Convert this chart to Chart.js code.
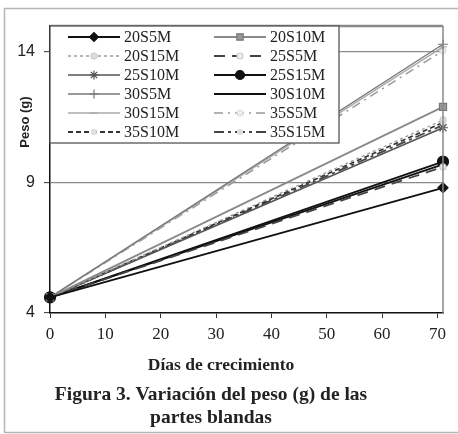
<!DOCTYPE html>
<html>
<head>
<meta charset="utf-8">
<script src="https://cdn.jsdelivr.net/npm/chart.js@4/dist/chart.umd.min.js"></script>
<style>
html,body{margin:0;padding:0;background:#fff;}
#wrap{width:458px;height:434px;position:relative;}
</style>
</head>
<body>
<div id="wrap"><canvas id="c" width="458" height="434"></canvas></div>
<script>
// ---- data ----
const days = [0, 71];
const seriesNames = ['20S5M','20S10M','20S15M','25S5M','25S10M','25S15M','30S5M','30S10M','30S15M','35S5M','35S10M','35S15M'];
const v20S5M  = [4.6, 8.8];
const v20S10M = [4.6, 11.9];
const v20S15M = [4.6, 11.4];
const v25S5M  = [4.6, 9.6];
const v25S10M = [4.6, 11.1];
const v25S15M = [4.6, 9.8];
const v30S5M  = [4.6, 14.3];
const v30S10M = [4.6, 9.7];
const v30S15M = [4.6, 14.2];
const v35S5M  = [4.6, 14.05];
const v35S10M = [4.6, 11.3];
const v35S15M = [4.6, 11.2];
const xTicks = [0, 10, 20, 30, 40, 50, 60, 70];
const yTicks = [4, 9, 14];
const yTitle = 'Peso (g)';
const xTitle = 'Días de crecimiento';
const caption = ['Figura 3. Variación del peso (g) de las', 'partes blandas'];

const values = [v20S5M,v20S10M,v20S15M,v25S5M,v25S10M,v25S15M,v30S5M,v30S10M,v30S15M,v35S5M,v35S10M,v35S15M];
const styles = [
  {c:'#111', w:1.8, dash:[], ps:'rectRot', pr:5, pf:'#111', pb:'#111'},
  {c:'#8a8a8a', w:1.8, dash:[], ps:'rect', pr:5, pf:'#999', pb:'#777'},
  {c:'#999', w:1.3, dash:[3,3], ps:'circle', pr:3, pf:'#ddd', pb:'#ccc'},
  {c:'#444', w:1.8, dash:[11,7], ps:'circle', pr:3, pf:'#eee', pb:'#ccc'},
  {c:'#555', w:1.6, dash:[], ps:'star', pr:5, pf:'#555', pb:'#555'},
  {c:'#111', w:1.8, dash:[], ps:'circle', pr:5.5, pf:'#111', pb:'#111'},
  {c:'#777', w:1.3, dash:[], ps:'cross', pr:5, pf:'#777', pb:'#777'},
  {c:'#111', w:1.8, dash:[], ps:'line', pr:4, pf:'#111', pb:'#111'},
  {c:'#aaa', w:1.5, dash:[], ps:'line', pr:4, pf:'#aaa', pb:'#aaa'},
  {c:'#999', w:1.5, dash:[9,5,2,5], ps:'circle', pr:3, pf:'#eee', pb:'#ddd'},
  {c:'#333', w:1.8, dash:[5,3], ps:'rect', pr:3, pf:'#ddd', pb:'#ddd'},
  {c:'#444', w:1.8, dash:[10,4,3,4], ps:'circle', pr:2.5, pf:'#ddd', pb:'#ddd'}
];

const datasets = seriesNames.map((n, i) => ({
  label: n,
  data: days.map((d, j) => ({x: d, y: values[i][j]})),
  borderColor: styles[i].c,
  borderWidth: styles[i].w,
  borderDash: styles[i].dash,
  pointStyle: styles[i].ps,
  pointRadius: styles[i].pr,
  pointBackgroundColor: styles[i].pf,
  pointBorderColor: styles[i].pb,
  pointBorderWidth: 1.2,
  fill: false,
  tension: 0,
  clip: false
}));

const SERIF = '"Liberation Serif", "Times New Roman", serif';
const SANS = '"Liberation Sans", Arial, sans-serif';

const decor = {
  id: 'decor',
  beforeDraw(chart) {
    const ctx = chart.ctx;
    ctx.save();
    ctx.fillStyle = '#fff';
    ctx.fillRect(0, 0, chart.width, chart.height);
    ctx.strokeStyle = '#b5b5b5';
    ctx.lineWidth = 1.5;
    ctx.beginPath();
    ctx.moveTo(4.5, 433); ctx.lineTo(4.5, 8.5); ctx.lineTo(458, 8.5);
    ctx.moveTo(4.5, 432.5); ctx.lineTo(458, 432.5);
    ctx.stroke();
    ctx.restore();
  },
  afterDatasetsDraw(chart) {
    const ctx = chart.ctx;
    const a = chart.chartArea;
    ctx.save();
    // plot frame top and right
    ctx.strokeStyle = '#888';
    ctx.lineWidth = 2.5;
    ctx.beginPath();
    ctx.moveTo(a.left, a.top); ctx.lineTo(a.right, a.top);
    ctx.stroke();
    ctx.lineWidth = 1.5;
    ctx.beginPath();
    ctx.moveTo(a.right, a.top); ctx.lineTo(a.right, a.bottom);
    ctx.stroke();

    // legend box
    const lx = a.left, ly = a.top, lw = 289, lh = 117;
    ctx.fillStyle = '#fff';
    ctx.fillRect(lx, ly, lw, lh);
    ctx.strokeStyle = '#555';
    ctx.lineWidth = 1.3;
    ctx.strokeRect(lx, ly, lw, lh);
    ctx.font = '16px ' + SERIF;
    ctx.textBaseline = 'middle';
    ctx.textAlign = 'left';
    chart.data.datasets.forEach((ds, i) => {
      const col = i % 2, row = Math.floor(i / 2);
      const y = ly + 11 + row * 19;
      const x0 = col === 0 ? lx + 18 : lx + 164;
      const x1 = x0 + 52;
      ctx.save();
      ctx.strokeStyle = ds.borderColor;
      ctx.lineWidth = ds.borderWidth;
      ctx.setLineDash(ds.borderDash);
      ctx.beginPath();
      ctx.moveTo(x0, y); ctx.lineTo(x1, y);
      ctx.stroke();
      ctx.setLineDash([]);
      ctx.fillStyle = ds.pointBackgroundColor;
      ctx.strokeStyle = ds.pointBorderColor;
      ctx.lineWidth = 1.2;
      Chart.helpers.drawPoint(ctx, {pointStyle: ds.pointStyle, radius: Math.min(ds.pointRadius, 4.5), rotation: 0, borderWidth: 1.2}, (x0 + x1) / 2, y);
      ctx.restore();
      ctx.fillStyle = '#222';
      ctx.fillText(ds.label, x1 + 4, y + 1);
    });

    // axis titles and caption
    ctx.fillStyle = '#222';
    ctx.textAlign = 'center';
    ctx.textBaseline = 'middle';
    ctx.font = 'bold 17.5px ' + SERIF;
    ctx.fillText(xTitle, 221, 365);
    ctx.font = 'bold 19.5px ' + SERIF;
    ctx.fillText(caption[0], 211, 395);
    ctx.fillText(caption[1], 211, 418);
    ctx.save();
    ctx.translate(25, 122);
    ctx.rotate(-Math.PI / 2);
    ctx.font = 'bold 13px ' + SANS;
    ctx.fillText(yTitle, 0, 0);
    ctx.restore();
    ctx.restore();
  }
};

new Chart(document.getElementById('c'), {
  type: 'line',
  data: { datasets },
  options: {
    responsive: false,
    animation: false,
    events: [],
    layout: { padding: { left: 0, right: 15, top: 26, bottom: 0 } },
    plugins: { legend: { display: false }, tooltip: { enabled: false }, title: { display: false } },
    scales: {
      x: {
        type: 'linear',
        min: 0, max: 71,
        afterFit(s) { s.height = 121; },
        afterBuildTicks(s) { s.ticks = xTicks.map(v => ({value: v})); },
        grid: { drawOnChartArea: false, tickLength: 5, tickColor: '#333', tickWidth: 1 },
        border: { display: true, color: '#111', width: 1.5 },
        ticks: { color: '#222', font: { family: SERIF, size: 17 }, padding: 6, maxRotation: 0, autoSkip: false }
      },
      y: {
        type: 'linear',
        min: 4, max: 15,
        afterFit(s) { s.width = 50; },
        afterBuildTicks(s) { s.ticks = yTicks.map(v => ({value: v})); },
        grid: {
          color: c => (c.tick && c.tick.value === 4) ? 'rgba(0,0,0,0)' : '#8a8a8a',
          lineWidth: 1.3,
          tickLength: 6, tickColor: '#333', tickWidth: 1
        },
        border: { display: true, color: '#111', width: 1.5 },
        ticks: { color: '#222', font: { family: SANS, size: 16 }, padding: 9, autoSkip: false }
      }
    }
  },
  plugins: [decor]
});
</script>
</body>
</html>
